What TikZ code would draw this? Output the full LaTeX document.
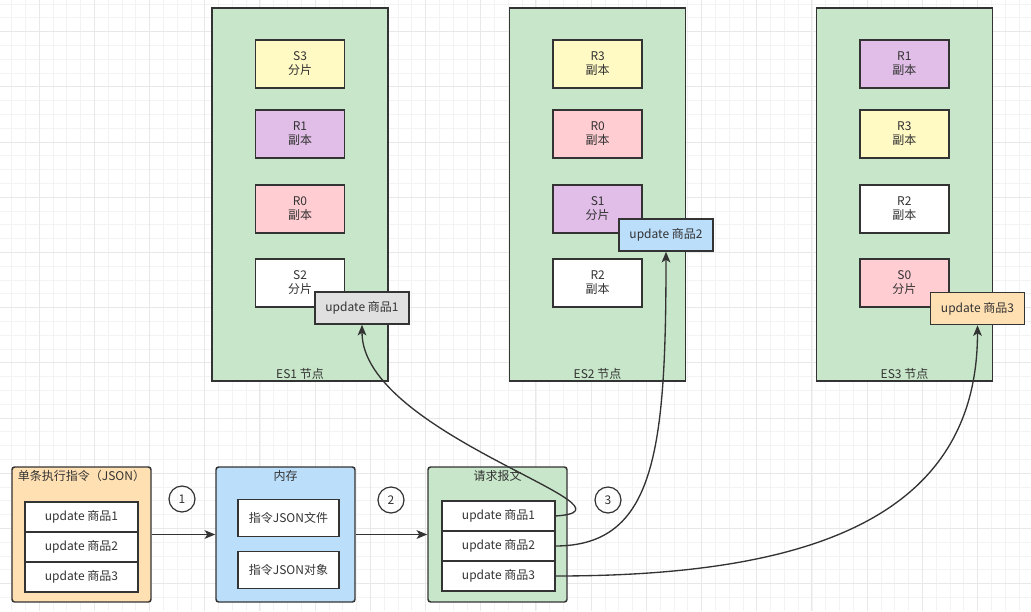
\documentclass[tikz,border=0pt]{standalone}
\usepackage{fontspec}
\setmainfont{Noto Sans CJK SC}
\usepackage{xcolor}
\usepackage{tikz}
\usetikzlibrary{arrows.meta, positioning}
\definecolor{nodegreen}{HTML}{C8E6C9}
\definecolor{shardyellow}{HTML}{FFF9C4}
\definecolor{shardpurple}{HTML}{E1BEE7}
\definecolor{shardpink}{HTML}{FFCDD2}
\definecolor{cmdorange}{HTML}{FFE0B2}
\definecolor{memblue}{HTML}{BBDEFB}
\definecolor{updgrey}{HTML}{E0E0E0}
\definecolor{edgedark}{HTML}{333333}
\definecolor{gridminor}{HTML}{F3F3F3}
\definecolor{gridmajor}{HTML}{E8E8E8}

\begin{document}
\begin{tikzpicture}[
  x=0.75pt, y=-0.75pt,
  every node/.style={font=\fontsize{9}{10.5}\selectfont, text=edgedark},
  esnode/.style={draw=edgedark, line width=1.1pt, fill=nodegreen, minimum width=132pt, minimum height=279.75pt},
  shard/.style={draw=edgedark, line width=1.1pt, minimum width=66.75pt, minimum height=36pt, align=center},
  upd/.style={draw=edgedark, line width=1.1pt, minimum width=70.5pt, minimum height=24pt},
  panel/.style={draw=edgedark, line width=1.1pt, rounded corners=2pt, minimum width=104.25pt, minimum height=101.25pt},
  grouptitle/.style={inner sep=1pt},
  row/.style={draw=edgedark, line width=1.1pt, fill=white, minimum width=84.75pt, minimum height=22.5pt, outer sep=0pt},
  membox/.style={draw=edgedark, line width=1.1pt, fill=white, minimum width=75.75pt, minimum height=28pt},
  num/.style={draw=edgedark, line width=0.9pt, circle, minimum size=19.5pt, inner sep=0pt},
  flow/.style={draw=edgedark, line width=1pt, -{Stealth[length=8pt, width=6.5pt, inset=2pt]}},
]
  \useasboundingbox (0,0) rectangle (1031,611);

  % Grid background
  \fill[white] (0,0) rectangle (1031,611);
  \foreach \k in {0,...,73} \draw[gridminor, line width=0.75pt] (11.6+13.8*\k,0) -- (11.6+13.8*\k,611);
  \foreach \k in {0,...,43} \draw[gridminor, line width=0.75pt] (0,4.1+13.8*\k) -- (1031,4.1+13.8*\k);
  \foreach \k in {0,...,17} \draw[gridmajor, line width=0.75pt] (39+55.2*\k,0) -- (39+55.2*\k,611);
  \foreach \k in {0,...,10} \draw[gridmajor, line width=0.75pt] (0,31.7+55.2*\k) -- (1031,31.7+55.2*\k);

  % ES nodes
  \node[esnode] (es1) at (300,194.5) {};
  \node[esnode] (es2) at (597.5,194.5) {};
  \node[esnode] (es3) at (904.5,194.5) {};
  \node[above=0pt of es1.south, inner sep=1.5pt] {ES1 节点};
  \node[above=0pt of es2.south, inner sep=1.5pt] {ES2 节点};
  \node[above=0pt of es3.south, inner sep=1.5pt] {ES3 节点};

  % Shards on ES1
  \node[shard, fill=shardyellow] (es1s3) at (300,64) {S3\\分片};
  \node[shard, fill=shardpurple] (es1r1) at (300,134) {R1\\副本};
  \node[shard, fill=shardpink] (es1r0) at (300,209) {R0\\副本};
  \node[shard, fill=white] (es1s2) at (300,283) {S2\\分片};

  % Shards on ES2
  \node[shard, fill=shardyellow] (es2r3) at (597.7,64) {R3\\副本};
  \node[shard, fill=shardpink] (es2r0) at (597.7,134) {R0\\副本};
  \node[shard, fill=shardpurple] (es2s1) at (597.7,209) {S1\\分片};
  \node[shard, fill=white] (es2r2) at (597.7,283) {R2\\副本};

  % Shards on ES3
  \node[shard, fill=shardpurple] (es3r1) at (904.3,64) {R1\\副本};
  \node[shard, fill=shardyellow] (es3r3) at (904.3,134) {R3\\副本};
  \node[shard, fill=white] (es3r2) at (904.3,209) {R2\\副本};
  \node[shard, fill=shardpink] (es3s0) at (904.3,283) {S0\\分片};

  % Updates arriving at the primaries
  \node[upd, fill=updgrey] (up1) at (362,308) {update 商品1};
  \node[upd, fill=memblue] (up2) at (666,235) {update 商品2};
  \node[upd, fill=cmdorange] (up3) at (977.5,308.5) {update 商品3};

  % Single command
  \node[panel, fill=cmdorange] (cmd) at (81.5,534.5) {};
  \node[grouptitle, below=2pt of cmd.north] {单条执行指令（JSON）};
  \node[row] (cmd1) at (81.5,517) {update 商品1};
  \node[row, below=0pt of cmd1] (cmd2) {update 商品2};
  \node[row, below=0pt of cmd2] (cmd3) {update 商品3};
  \node[num] (num1) at (182,499) {1};

  % Memory
  \node[panel, fill=memblue] (mem) at (285.5,534.5) {};
  \node[grouptitle, below=2pt of mem.north] {内存};
  \node[membox] (memfile) at (288.5,518) {指令JSON文件};
  \node[membox] (memobj) at (288.5,570) {指令JSON对象};
  \node[num] (num2) at (391,500) {2};

  % Request body
  \node[panel, fill=nodegreen] (req) at (497.5,534.5) {};
  \node[grouptitle, below=2pt of req.north] {请求报文};
  \node[row] (req1) at (498.5,516) {update 商品1};
  \node[row, below=0pt of req1] (req2) {update 商品2};
  \node[row, below=0pt of req2] (req3) {update 商品3};
  \node[num] (num3) at (608,500) {3};

  % Arrows
  \draw[flow] (cmd) -- (mem);
  \draw[flow] (mem) -- (req);
  \draw[flow] (req1.east) .. controls +(100,-6) and +(0,110) .. (up1.south);
  \draw[flow] (req2.east) .. controls +(100,0) and +(0,200) .. (up2.south);
  \draw[flow] (req3.east) .. controls +(240,0) and +(0,200) .. (up3.south);

\end{tikzpicture}
\end{document}
